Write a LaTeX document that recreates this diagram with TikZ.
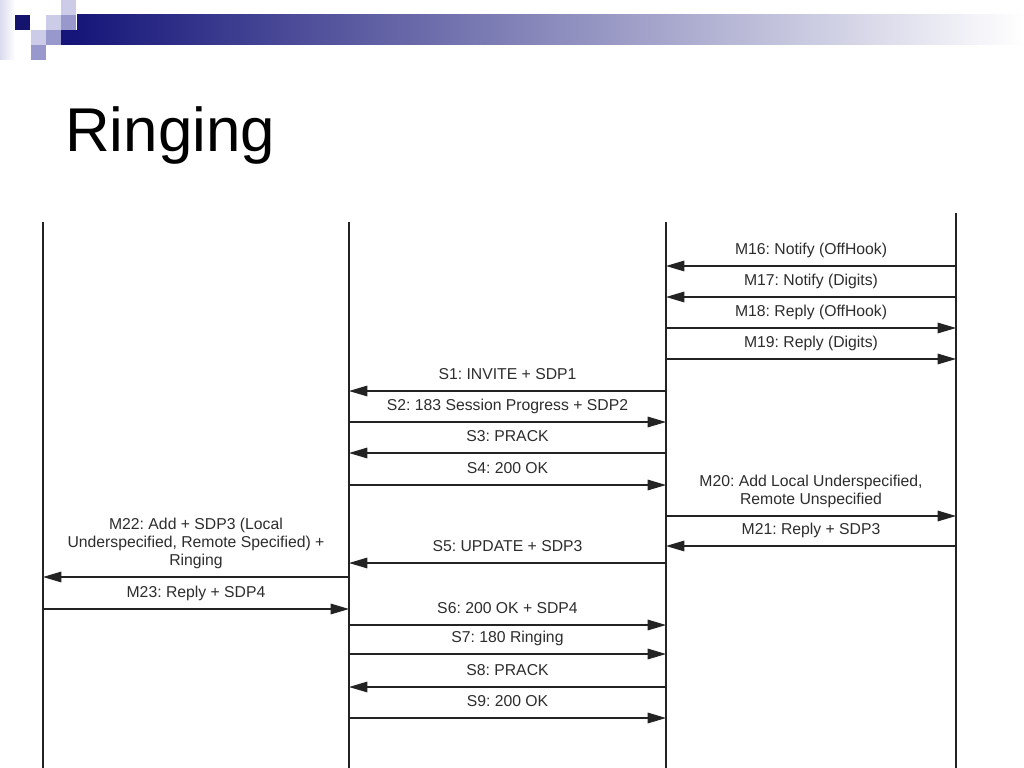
\documentclass[tikz,border=0pt]{standalone}
\usepackage{fontspec}
\setmainfont{Liberation Sans}
\usetikzlibrary{arrows.meta}
\definecolor{SlideNavy}{RGB}{22,22,122}
\definecolor{SlideGrey}{RGB}{172,172,186}
\definecolor{SlideLilac}{RGB}{204,204,232}
\definecolor{SlideMauve}{RGB}{152,152,204}
\definecolor{LineGrey}{RGB}{35,35,35}
\definecolor{TextGrey}{RGB}{45,45,45}
\frenchspacing

\begin{document}
\begin{tikzpicture}[x=0.025cm,y=-0.025cm,
    msg/.style={draw=LineGrey,line width=0.85pt,-{Triangle[length=13pt,width=7.5pt]}},
    lbl/.style={midway,anchor=south,yshift=0.13cm,inner sep=0pt,align=center,
      font=\fontsize{11.2}{12.8}\selectfont,text=TextGrey,execute at end node=\strut}]
  \useasboundingbox[fill=white] (0,0) rectangle (1024,768);

  % slide header
  \shade[left color=SlideLilac!70,right color=white] (0,0) rectangle (15,60);
  \shade[left color=SlideNavy,middle color=SlideGrey,right color=white] (77,15) rectangle (1024,45);
  \fill[SlideNavy] (61,30) rectangle (77,45);
  \fill[SlideNavy!90!black] (15,15) rectangle (30,30);
  \foreach \x/\y in {46/15,61/0,31/30}
    \fill[SlideLilac] (\x,\y) rectangle ++(15,15);
  \foreach \x/\y in {61/15,46/30,31/45}
    \fill[SlideMauve] (\x,\y) rectangle ++(15,15);
  \node[anchor=base west,inner sep=0pt,font=\fontsize{44}{53}\selectfont] (title) at (65,152) {Ringing};

  % lifelines
  \foreach \n/\x/\t in {mgL/43/222,mgcL/349/222,mgcR/666/222,mgR/956/213}{
    \coordinate (\n) at (\x,\t);
    \coordinate (\n-end) at (\x,768);
    \draw[LineGrey,line width=0.85pt] (\n) -- (\n-end);
  }

  % messages
  \foreach \f/\t/\y/\txt in {
      mgR/mgcR/266/{M16: Notify (OffHook)},
      mgR/mgcR/297/{M17: Notify (Digits)},
      mgcR/mgR/328/{M18: Reply (OffHook)},
      mgcR/mgR/359/{M19: Reply (Digits)},
      mgcR/mgcL/391/{S1: INVITE + SDP1},
      mgcL/mgcR/422/{S2: 183 Session Progress + SDP2},
      mgcR/mgcL/453/{S3: PRACK},
      mgcL/mgcR/485/{S4: 200 OK},
      mgcR/mgR/516/{M20: Add Local Underspecified,\\Remote Unspecified},
      mgR/mgcR/546/{M21: Reply + SDP3},
      mgcR/mgcL/563/{S5: UPDATE + SDP3},
      mgcL/mgL/577/{M22: Add + SDP3 (Local\\Underspecified, Remote Specified) +\\Ringing},
      mgL/mgcL/609/{M23: Reply + SDP4},
      mgcL/mgcR/625/{S6: 200 OK + SDP4},
      mgcL/mgcR/654/{S7: 180 Ringing},
      mgcR/mgcL/687/{S8: PRACK},
      mgcL/mgcR/718/{S9: 200 OK}}
    \draw[msg] (\f |- 0,\y) -- node[lbl] {\txt} (\t |- 0,\y);
\end{tikzpicture}
\end{document}
